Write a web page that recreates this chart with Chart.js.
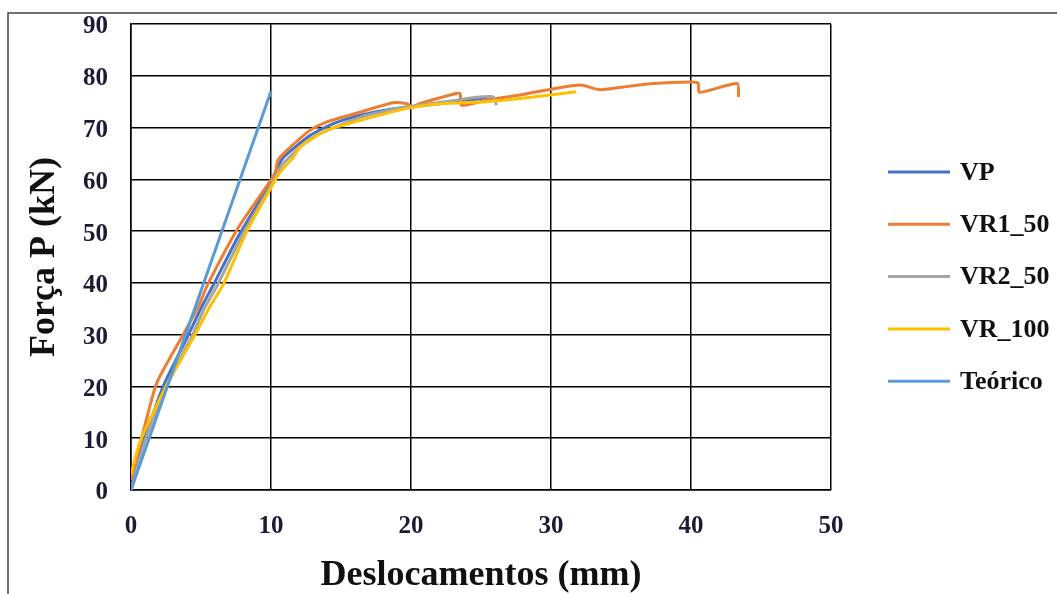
<!DOCTYPE html>
<html>
<head>
<meta charset="utf-8">
<title>Força x Deslocamento</title>
<script src="https://cdn.jsdelivr.net/npm/chart.js@4.4.1/dist/chart.umd.min.js"></script>
<style>
  html, body { margin: 0; padding: 0; background: #fff; overflow: hidden; }
  canvas { display: block; }
</style>
</head>
<body>
<canvas id="forcaChart" width="1057" height="594"></canvas>
<script>
// curvas força x deslocamento: [deslocamento (mm), força (kN)]
const serieVP = [
  [0, 0], [0.9, 9.3], [2.3, 20], [4.0, 29.4], [5.05, 35.4], [5.9, 39.7],
  [7.65, 48.9], [9.93, 59.2], [10.6, 63], [10.9, 64.3], [12.8, 68.5],
  [14.5, 70.8], [16.4, 72.4], [18.5, 73.5], [20, 74], [22, 74.6],
  [24, 75.2], [25.8, 76]
];
const serieVR1_50 = [
  [0, 2], [0.76, 10], [1.83, 20.6], [3.6, 29.4], [4.8, 35.4], [5.5, 39.8],
  [7.65, 50.6], [9.9, 59.5], [10.3, 61.2], [10.5, 63.7], [11.1, 65.5],
  [12.8, 69.5], [14, 71.1], [16.4, 73], [18.7, 74.8], [19.7, 74.6],
  [20.1, 74], [20.6, 74.6], [22.8, 76.3], [23.5, 76.6], [23.6, 74.3],
  [25.4, 75.3], [27.8, 76.3], [30.2, 77.5], [32.1, 78.2], [33.5, 77.3],
  [35.6, 78], [37.3, 78.5], [39.9, 78.8], [40.5, 78.6], [40.6, 76.8],
  [43.3, 78.5], [43.4, 75.9]
];
const serieVR2_50 = [
  [0, 0], [1.0, 9.5], [2.5, 20], [4.3, 29.4], [5.3, 35.4], [6.2, 39.7],
  [8.0, 49.5], [10, 58.8], [10.8, 62.8], [12.9, 68], [16.4, 72],
  [18.7, 73.5], [20.5, 74.3], [23, 75.2], [24.9, 75.9], [25.9, 75.9],
  [26.1, 74.3]
];
const serieVR_100 = [
  [0, 3], [0.64, 9.3], [2.5, 20], [4.45, 29.4], [5.64, 35.4], [6.6, 39.7],
  [8.26, 49.9], [9.9, 57.9], [10.6, 61.2], [11.6, 64.3], [12.1, 66.3],
  [14, 69.5], [16.4, 71.4], [19.7, 73.7], [22.1, 74.6], [25.4, 75],
  [27.8, 75.6], [31.8, 76.9]
];
const serieTeorico = [[0, 0], [10, 77]];

const rotulos = ["VP", "VR1_50", "VR2_50", "VR_100", "Teórico"];
const cores = ["#4472C4", "#ED7D31", "#A5A5A5", "#FFC000", "#5B9BD5"];
const series = [serieVP, serieVR1_50, serieVR2_50, serieVR_100, serieTeorico];

const ticksX = [0, 10, 20, 30, 40, 50];
const ticksY = [0, 10, 20, 30, 40, 50, 60, 70, 80, 90];

const serif = '"Liberation Serif", "Times New Roman", serif';

// moldura externa do gráfico
const moldura = {
  id: "moldura",
  beforeDraw(chart) {
    const ctx = chart.ctx;
    ctx.save();
    ctx.strokeStyle = "#444";
    ctx.lineWidth = 1.5;
    ctx.strokeRect(8, 13, 1200, 800);
    ctx.restore();
  }
};

// legenda à direita, uma linha por série
const legendaLateral = {
  id: "legendaLateral",
  afterDraw(chart, args, opts) {
    const ctx = chart.ctx;
    ctx.save();
    ctx.font = "bold " + opts.fontSize + "px " + serif;
    ctx.textBaseline = "middle";
    chart.data.datasets.forEach((ds, i) => {
      const y = opts.y + i * opts.gap;
      ctx.strokeStyle = ds.borderColor;
      ctx.lineWidth = 3;
      ctx.beginPath();
      ctx.moveTo(opts.x, y);
      ctx.lineTo(opts.x + opts.lineLen, y);
      ctx.stroke();
      ctx.fillStyle = "#111";
      ctx.fillText(ds.label, opts.x + opts.lineLen + 10, y + 1);
    });
    ctx.restore();
  }
};

const datasets = series.map((s, i) => ({
  label: rotulos[i],
  data: s.map(p => ({ x: p[0], y: p[1] })),
  borderColor: cores[i],
  backgroundColor: cores[i],
  borderWidth: 3,
  pointRadius: 0,
  showLine: true,
  tension: 0.2,
  order: series.length - i
}));

new Chart(document.getElementById("forcaChart"), {
  type: "scatter",
  data: { datasets },
  plugins: [moldura, legendaLateral],
  options: {
    responsive: false,
    animation: false,
    layout: { padding: { left: 0, top: 24, right: 226, bottom: 0 } },
    plugins: {
      legend: { display: false },
      tooltip: { enabled: false },
      legendaLateral: { x: 888, y: 172, gap: 52.3, lineLen: 62, fontSize: 26 }
    },
    scales: {
      x: {
        type: "linear",
        min: 0, max: 50,
        afterFit(scale) {
          scale.height = 104;
          scale.paddingLeft = 0;
          scale.paddingRight = 0;
        },
        afterBuildTicks(scale) { scale.ticks = ticksX.map(v => ({ value: v })); },
        grid: { color: "#000", lineWidth: 1.5, drawTicks: false },
        border: { color: "#000", width: 1.5 },
        ticks: {
          padding: 22,
          color: "#1b1b33",
          font: { family: serif, size: 25, weight: "bold" }
        },
        title: {
          display: true,
          text: "Deslocamentos (mm)",
          color: "#111",
          padding: { top: 0, bottom: 0 },
          font: { family: serif, size: 36, weight: "bold", lineHeight: 1.0 }
        }
      },
      y: {
        type: "linear",
        min: 0, max: 90,
        afterFit(scale) {
          scale.width = 131;
          scale.paddingTop = 0;
          scale.paddingBottom = 0;
        },
        afterBuildTicks(scale) { scale.ticks = ticksY.map(v => ({ value: v })); },
        grid: { color: "#000", lineWidth: 1.5, drawTicks: false },
        border: { color: "#000", width: 1.5 },
        ticks: {
          padding: 23,
          labelOffset: 3,
          color: "#1b1b33",
          font: { family: serif, size: 25, weight: "bold" }
        },
        title: {
          display: true,
          text: "Força P (kN)",
          color: "#111",
          padding: { top: 27, bottom: 0 },
          font: { family: serif, size: 36, weight: "bold", lineHeight: 1.0 }
        }
      }
    }
  }
});
</script>
</body>
</html>
